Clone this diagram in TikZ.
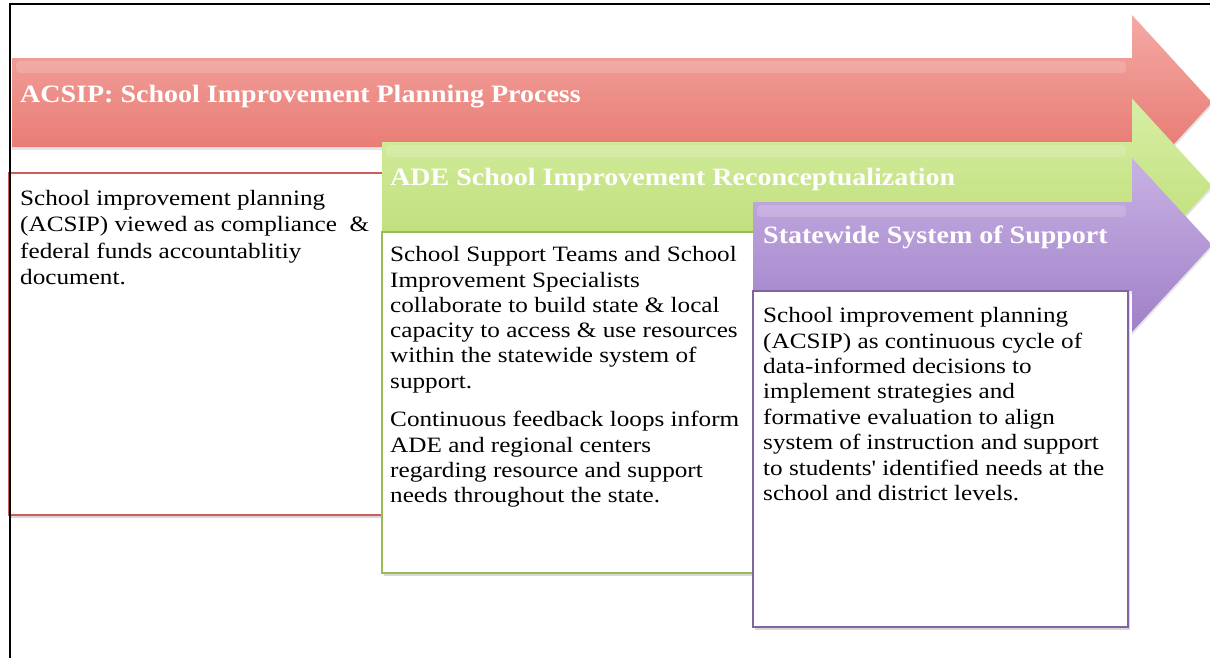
\documentclass[tikz,border=0pt]{standalone}
\usepackage{fontspec}
\setmainfont{Liberation Serif}
\newfontfamily\bodyfont[FakeStretch=1.15]{Liberation Serif}
\newfontfamily\headfont[FakeStretch=1.12]{Liberation Serif}
\usetikzlibrary{shadows}
\definecolor{redT}{RGB}{244,170,165}
\definecolor{redM}{RGB}{238,138,131}
\definecolor{redB}{RGB}{229,110,102}
\definecolor{redL}{RGB}{208,92,88}
\definecolor{grnT}{RGB}{215,238,165}
\definecolor{grnM}{RGB}{200,230,135}
\definecolor{grnB}{RGB}{186,220,112}
\definecolor{grnL}{RGB}{155,187,89}
\definecolor{purT}{RGB}{200,178,228}
\definecolor{purM}{RGB}{178,150,215}
\definecolor{purB}{RGB}{160,128,200}
\definecolor{purL}{RGB}{128,100,162}
\begin{document}
\begin{tikzpicture}[x=1pt,y=-1pt,
  arrowshade/.style n args={3}{top color=#1, middle color=#2, bottom color=#3,
    draw=none, drop shadow={shadow xshift=0pt, shadow yshift=-3pt, opacity=0.2}},
  gloss/.style={fill=white, opacity=0.16, rounded corners=4pt},
  textbox/.style={fill=white, draw=#1, line width=1.6pt,
    drop shadow={shadow xshift=2pt, shadow yshift=-3pt, opacity=0.3}},
  headtext/.style={anchor=base west, inner sep=0pt, text=white,
    font=\headfont\bfseries\fontsize{25}{30}\selectfont},
  bodytext/.style={anchor=base west, inner sep=0pt, text=black}
]
\useasboundingbox (0,0) rectangle (1210,657);
\fill[white] (0,0) rectangle (1210,657);

% red arrow and box
\path[arrowshade={redT}{redM}{redB}] (12,58) -- (1132,58) -- (1132,15) -- (1212,102.5)
  -- (1132,190) -- (1132,147) -- (12,147) -- cycle;
\path[gloss] (16,61) rectangle (1126,73);
\node[headtext] (t1) at (20,102) {ACSIP: School Improvement Planning Process};
\path[textbox=redL] (9,173) rectangle (400,515);
\node[bodytext] (b1) at (20,205) {\parbox[t]{360pt}{\bodyfont\fontsize{21.9}{26.6}\selectfont\raggedright
School improvement planning\\
(ACSIP) viewed as compliance~~\&\\
federal funds accountablitiy\\
document.}};

% green arrow and box
\path[arrowshade={grnT}{grnM}{grnB}] (382,142) -- (1132,142) -- (1132,98.5) -- (1212,186)
  -- (1132,273.5) -- (1132,231.8) -- (382,231.8) -- cycle;
\path[gloss] (386,145) rectangle (1126,157);
\node[headtext] (t2) at (390,185) {ADE School Improvement Reconceptualization};
\path[textbox=grnL] (382,232) rectangle (770,573);
\node[bodytext] (b2) at (390,261.7) {\parbox[t]{360pt}{\bodyfont\fontsize{21.9}{25.3}\selectfont\raggedright
School Support Teams and School\\
Improvement Specialists\\
collaborate to build state \& local\\
capacity to access \& use resources\\
within the statewide system of\\
support.}};
\node[bodytext] (b3) at (390,426.7) {\parbox[t]{360pt}{\bodyfont\fontsize{21.9}{25.3}\selectfont\raggedright
Continuous feedback loops inform\\
ADE and regional centers\\
regarding resource and support\\
needs throughout the state.}};

% purple arrow and box
\path[arrowshade={purT}{purM}{purB}] (753,202) -- (1132,202) -- (1132,158) -- (1212,245)
  -- (1132,332) -- (1132,290.8) -- (753,290.8) -- cycle;
\path[gloss] (757,205) rectangle (1126,217);
\node[headtext] (t3) at (763,243) {Statewide System of Support};
\path[textbox=purL] (753,291) rectangle (1128,627);
\node[bodytext] (b4) at (763,322.7) {\parbox[t]{360pt}{\bodyfont\fontsize{21.9}{25.4}\selectfont\raggedright
School improvement planning\\
(ACSIP) as continuous cycle of\\
data-informed decisions to\\
implement strategies and\\
formative evaluation to align\\
system of instruction and support\\
to students' identified needs at the\\
school and district levels.}};

% outer frame
\draw[line width=1.6pt, black] (1212,4) -- (10,4) -- (10,660);
\end{tikzpicture}
\end{document}
